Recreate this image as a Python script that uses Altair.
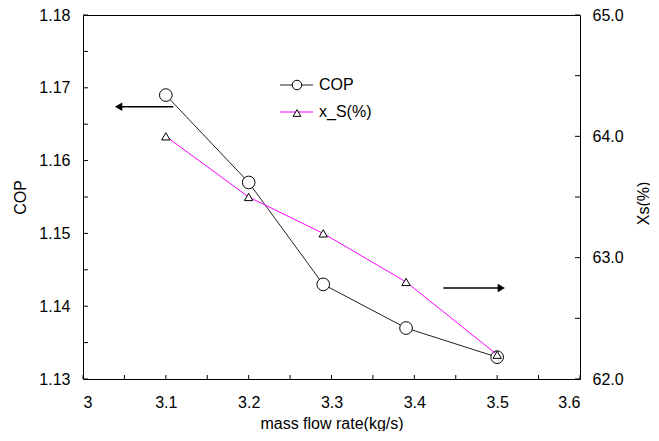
import altair as alt
import pandas as pd

# ---- data ----
mass_flow = [3.1, 3.2, 3.29, 3.39, 3.5]
cop = [1.169, 1.157, 1.143, 1.137, 1.133]
xs = [64.0, 63.5, 63.2, 62.8, 62.2]

x_labels = [3.0, 3.1, 3.2, 3.3, 3.4, 3.5, 3.6]
x_ticks = [3.0, 3.05, 3.1, 3.15, 3.2, 3.25, 3.3, 3.35, 3.4, 3.45, 3.5, 3.55, 3.6]
cop_labels = [1.13, 1.14, 1.15, 1.16, 1.17, 1.18]
cop_ticks = [1.13, 1.135, 1.14, 1.145, 1.15, 1.155, 1.16, 1.165, 1.17, 1.175, 1.18]
xs_labels = [62.0, 63.0, 64.0, 65.0]
xs_ticks = [62.0, 62.5, 63.0, 63.5, 64.0, 64.5, 65.0]

# annotation arrows (data coordinates)
left_arrow_x = [3.109, 3.046]
left_arrow_y = [1.1674, 1.1674]
left_head_x = [3.043]
right_arrow_x = [3.435, 3.502]
right_arrow_y = [62.75, 62.75]
right_head_x = [3.505]

legend_labels = ["COP", "x_S(%)"]

FONT = "Liberation Sans"
W, H = 497, 364

x_scale = alt.Scale(domain=[3.0, 3.6], nice=False, zero=False)
x_axis = alt.Axis(values=x_labels, format="~g", ticks=False, tickSize=0, domain=False,
                  grid=False, labelPadding=15, labelFontSize=16, labelFont=FONT,
                  labelColor="black", title="mass flow rate(kg/s)", titleFontSize=16,
                  titleFont=FONT, titleFontWeight="normal", titleColor="black",
                  titleY=44, titleBaseline="middle")

cop_scale = alt.Scale(domain=[1.13, 1.18], nice=False, zero=False)
left_axis = alt.Axis(values=cop_labels, format=".2f", ticks=False, tickSize=0, domain=False,
                     grid=False, labelPadding=13, labelFontSize=16, labelFont=FONT,
                     labelColor="black", title="COP", titleFontSize=16, titleFont=FONT,
                     titleFontWeight="normal", titleColor="black", titleAngle=270,
                     titleX=-63, titleY=182, titleBaseline="middle", orient="left")

xs_scale = alt.Scale(domain=[62.0, 65.0], nice=False, zero=False)
right_axis = alt.Axis(values=xs_labels, format=".1f", ticks=False, tickSize=0, domain=False,
                      grid=False, labelPadding=12, labelFontSize=16, labelFont=FONT,
                      labelColor="black", title="Xs(%)", titleFontSize=16, titleFont=FONT,
                      titleFontWeight="normal", titleColor="black", titleAngle=270,
                      titleX=63, titleY=188, titleBaseline="middle", orient="right")


def X(field="x"):
    return alt.X(f"{field}:Q", scale=x_scale, axis=x_axis)


def YL(field):
    return alt.Y(f"{field}:Q", scale=cop_scale, axis=left_axis)


def YR(field):
    return alt.Y(f"{field}:Q", scale=xs_scale, axis=right_axis)


cop_df = pd.DataFrame({"x": mass_flow, "COP": cop})
xs_df = pd.DataFrame({"x": mass_flow, "Xs": xs})

# ---- left (COP) group ----
cop_line = alt.Chart(cop_df).mark_line(color="#222222", strokeWidth=1).encode(x=X(), y=YL("COP"))
cop_pts = alt.Chart(cop_df).mark_point(shape="circle", size=160, filled=True, fill="white",
                                       stroke="black", strokeWidth=1, opacity=1).encode(x=X(), y=YL("COP"))

xt_df = pd.DataFrame({"x": x_ticks})
x_tick_rules = alt.Chart(xt_df).mark_rule(color="black", strokeWidth=1).encode(
    x=X(), y=alt.value(H), y2=alt.value(H - 4))

lt_df = pd.DataFrame({"t": cop_ticks})
left_tick_rules = alt.Chart(lt_df).mark_rule(color="black", strokeWidth=1).encode(
    y=YL("t"), x=alt.value(0), x2=alt.value(5))

la_df = pd.DataFrame({"x": left_arrow_x, "ay": left_arrow_y})
left_arrow = alt.Chart(la_df).mark_line(color="black", strokeWidth=1.5).encode(x=X(), y=YL("ay"))
lh_df = pd.DataFrame({"x": left_head_x, "ay": left_arrow_y[:1]})
left_head = alt.Chart(lh_df).mark_point(shape="triangle-left", size=70, filled=True,
                                        color="black", opacity=1).encode(x=X(), y=YL("ay"))

# legend (drawn inside the plot)
leg1 = pd.DataFrame({"label": legend_labels[:1]})
leg2 = pd.DataFrame({"label": legend_labels[1:]})
leg_line1 = alt.Chart(leg1).mark_rule(color="#222222", strokeWidth=1).encode(
    x=alt.value(197), x2=alt.value(230), y=alt.value(70))
leg_pt1 = alt.Chart(leg1).mark_point(shape="circle", size=90, filled=True, fill="white",
                                     stroke="black", strokeWidth=1, opacity=1).encode(
    x=alt.value(214), y=alt.value(70))
leg_txt1 = alt.Chart(leg1).mark_text(align="left", baseline="middle", fontSize=16, font=FONT,
                                     color="black").encode(
    x=alt.value(236), y=alt.value(70), text="label:N")
leg_line2 = alt.Chart(leg2).mark_rule(color="#ff00ff", strokeWidth=1).encode(
    x=alt.value(197), x2=alt.value(230), y=alt.value(97))
leg_pt2 = alt.Chart(leg2).mark_point(shape="triangle-up", size=60, filled=True, fill="white",
                                     stroke="black", strokeWidth=1, opacity=1).encode(
    x=alt.value(214), y=alt.value(98))
leg_txt2 = alt.Chart(leg2).mark_text(align="left", baseline="middle", fontSize=16, font=FONT,
                                     color="black").encode(
    x=alt.value(236), y=alt.value(97), text="label:N")

left = alt.layer(cop_line, cop_pts, x_tick_rules, left_tick_rules, left_arrow, left_head,
                 leg_line1, leg_pt1, leg_txt1, leg_line2, leg_pt2, leg_txt2)

# ---- right (Xs) group ----
xs_line = alt.Chart(xs_df).mark_line(color="#ff00ff", strokeWidth=1).encode(x=X(), y=YR("Xs"))
xs_pts = alt.Chart(xs_df).mark_point(shape="triangle-up", size=70, filled=True, fill="white",
                                     stroke="black", strokeWidth=1, opacity=1).encode(x=X(), y=YR("Xs"))

rt_df = pd.DataFrame({"t": xs_ticks})
right_tick_rules = alt.Chart(rt_df).mark_rule(color="black", strokeWidth=1).encode(
    y=YR("t"), x=alt.value(W), x2=alt.value(W - 5))

ra_df = pd.DataFrame({"x": right_arrow_x, "ay": right_arrow_y})
right_arrow = alt.Chart(ra_df).mark_line(color="black", strokeWidth=1.5).encode(x=X(), y=YR("ay"))
rh_df = pd.DataFrame({"x": right_head_x, "ay": right_arrow_y[:1]})
right_head = alt.Chart(rh_df).mark_point(shape="triangle-right", size=70, filled=True,
                                         color="black", opacity=1).encode(x=X(), y=YR("ay"))

right = alt.layer(xs_line, xs_pts, right_tick_rules, right_arrow, right_head)

chart = alt.layer(left, right).resolve_scale(y="independent").properties(
    width=W, height=H,
    autosize=alt.AutoSizeParams(type="none"),
    padding={"left": 75, "top": 7, "right": 70, "bottom": 52},
    background="white",
).configure_view(stroke="black", strokeWidth=1)

chart.save("out.html", embed_options={"renderer": "svg", "actions": False})
